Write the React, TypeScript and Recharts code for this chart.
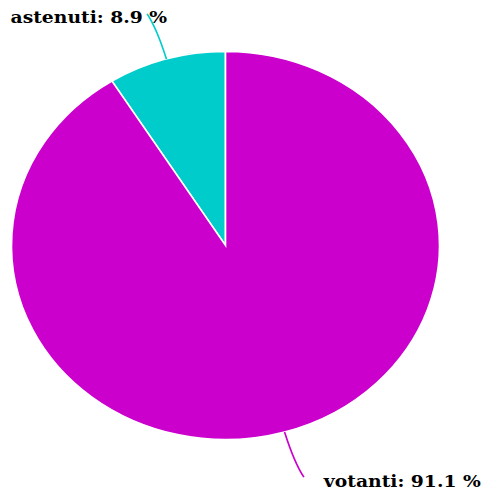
import React from "react";
import { Pie, PieChart, Cell } from "recharts";

const categories = ["astenuti", "votanti"];
const shares = [8.9, 91.1];
const colors = ["#00cccc", "#cc00cc"];

const data = categories.map((name, i) => ({ name, value: shares[i] }));

// the original pie (and its text) is stretched horizontally
const SX = 214 / 194;
const CX = 225.5;
const CY = 245.5;
const RADIAN = Math.PI / 180;

function renderLabel(props: any) {
  const { cx, cy, midAngle, outerRadius, name, value, index } = props;
  const cos = Math.cos(-midAngle * RADIAN);
  const sin = Math.sin(-midAngle * RADIAN);
  const sign = cos >= 0 ? 1 : -1;
  const sx = cx + outerRadius * cos;
  const sy = cy + outerRadius * sin;
  const mx = cx + (outerRadius + 32) * cos;
  const my = cy + (outerRadius + 32) * sin;
  const ex = cx + (outerRadius + 47) * cos + (sign * 5) / SX;
  const ey = cy + (outerRadius + 47) * sin;
  const tx = ex + 20 / SX;
  const ty = ey + 9.5;
  return (
    <g>
      <path
        d={`M${sx},${sy}Q${mx},${my} ${ex},${ey}`}
        stroke={colors[index]}
        strokeWidth={1.5}
        fill="none"
      />
      <text
        x={tx}
        y={ty}
        textAnchor={sign > 0 ? "start" : "end"}
        fontFamily="DejaVu Serif"
        fontWeight="bold"
        fontSize={17}
        fill="#000"
      >
        {`${name}: ${value.toFixed(1)} %`}
      </text>
    </g>
  );
}

export default function App() {
  return (
    <div style={{ position: "absolute", left: 0, top: 0, width: 484, height: 492, overflow: "hidden", background: "#fff" }}>
      <div style={{ width: 484, height: 492, transform: `scaleX(${SX})`, transformOrigin: `${CX}px ${CY}px` }}>
        <PieChart width={484} height={492} margin={{ top: 0, right: 0, bottom: 0, left: 0 }}>
          <Pie
            data={data}
            dataKey="value"
            nameKey="name"
            cx={CX}
            cy={CY}
            outerRadius={194}
            startAngle={90}
            endAngle={450}
            stroke="#fff"
            strokeWidth={1.5}
            label={renderLabel}
            labelLine={false}
            isAnimationActive={false}
          >
            {data.map((d, i) => (
              <Cell key={d.name} fill={colors[i]} />
            ))}
          </Pie>
        </PieChart>
      </div>
    </div>
  );
}
